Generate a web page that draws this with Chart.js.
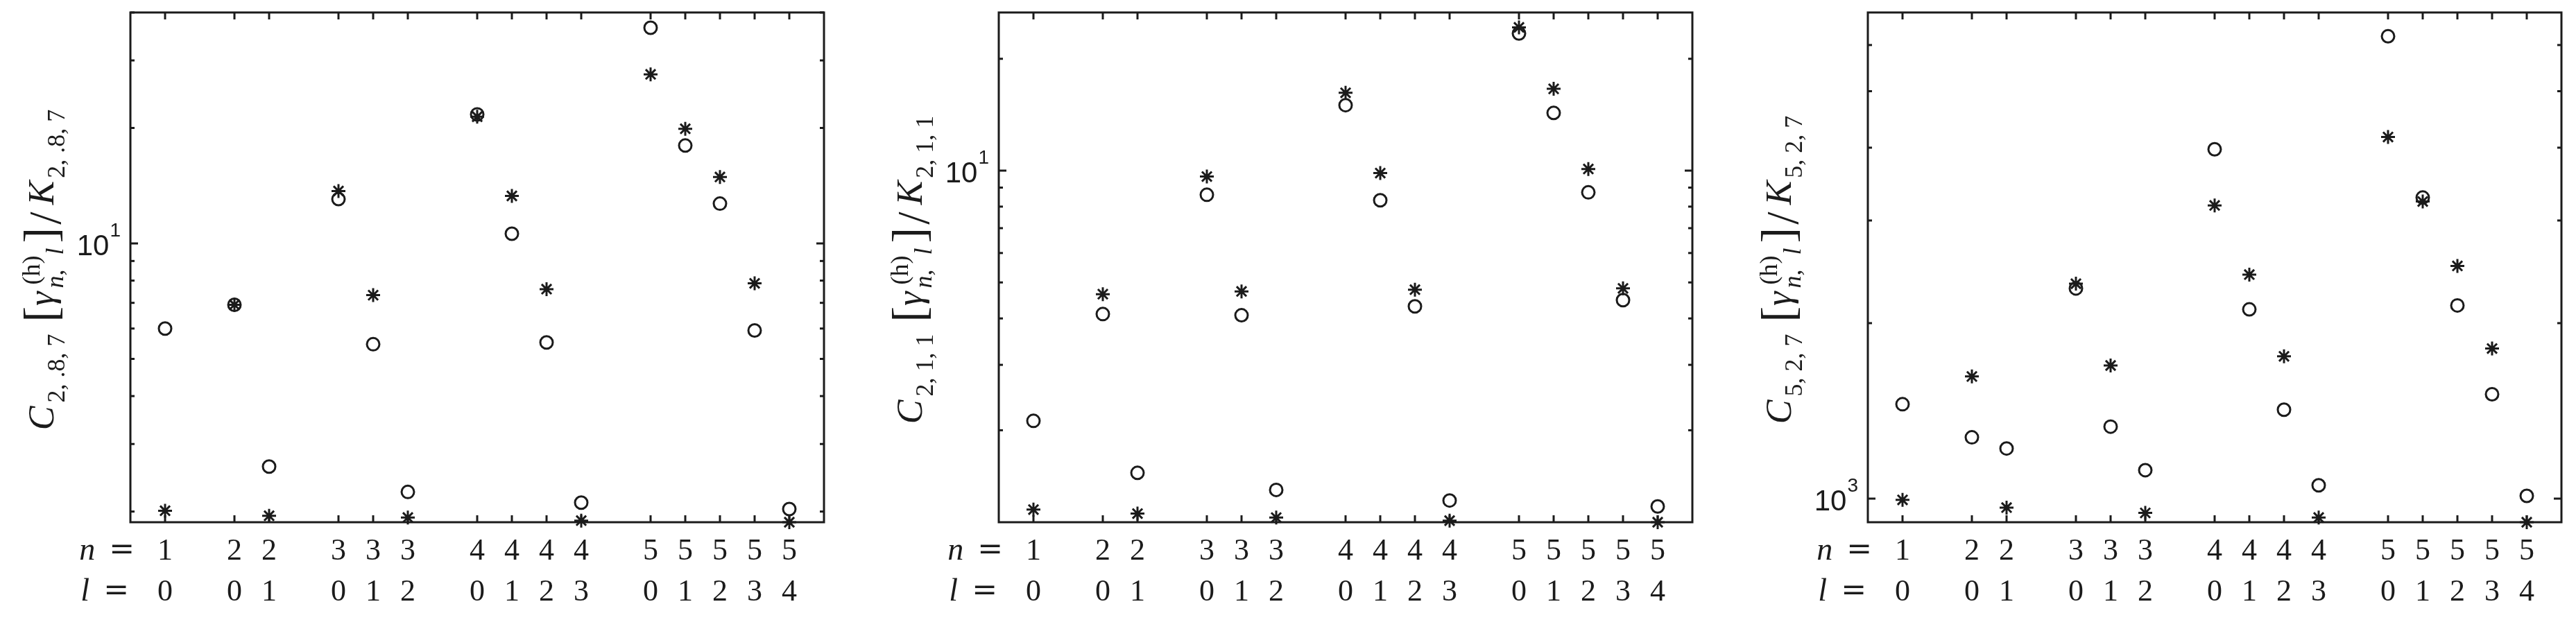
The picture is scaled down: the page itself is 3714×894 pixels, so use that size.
<!DOCTYPE html>
<html>
<head>
<meta charset="utf-8">
<script src="https://cdn.jsdelivr.net/npm/chart.js@4.4.0/dist/chart.umd.min.js"></script>
<style>
html,body{margin:0;padding:0;background:#fff;width:3714px;height:894px;overflow:hidden}
canvas{position:absolute;top:0}
</style>
</head>
<body>
<canvas id="c1" width="1238" height="894" style="left:0px"></canvas>
<canvas id="c2" width="1238" height="894" style="left:1238px"></canvas>
<canvas id="c3" width="1238" height="894" style="left:2476px"></canvas>
<script>
// ---------- data ----------
const nVals = [1, 2, 2, 3, 3, 3, 4, 4, 4, 4, 5, 5, 5, 5, 5];
const lVals = [0, 0, 1, 0, 1, 2, 0, 1, 2, 3, 0, 1, 2, 3, 4];

// panel 1 : C_{2,.8,7}
const circles1 = [6.0, 6.92, 2.62, 13.05, 5.46, 2.25, 21.7, 10.6, 5.52, 2.11, 36.5, 18.0, 12.7, 5.93, 2.03];
const stars1   = [2.01, 6.92, 1.95, 13.7, 7.33, 1.93, 21.4, 13.3, 7.6, 1.894, 27.6, 19.9, 14.9, 7.87, 1.876];
// panel 2 : C_{2,1,1}
const circles2 = [2.12, 4.11, 1.536, 8.61, 4.08, 1.382, 15.0, 8.32, 4.31, 1.294, 23.4, 14.3, 8.74, 4.48, 1.247];
const stars2   = [1.223, 4.65, 1.193, 9.64, 4.73, 1.164, 16.2, 9.85, 4.78, 1.142, 24.3, 16.6, 10.1, 4.82, 1.131];
// panel 3 : C_{5,2,7}
const circles3 = [1452, 1274, 1219, 2294, 1329, 1119, 3975, 2112, 1421, 1054, 6211, 3285, 2145, 1510, 1011];
const stars3   = [995, 1620, 965, 2337, 1692, 945, 3184, 2423, 1754, 928, 4172, 3234, 2507, 1809, 911];

// axis ranges
const yMin = [1.876, 1.131, 911];
const yMax = [40, 26.65, 6823];
const xMin = 0, xMax = 20;

// labels
const subscripts = ["2, .8, 7", "2, 1, 1", "5, 2, 7"];
const yLabelTickValue = [10, 10, 1000];
const yLabelTickBase = ["10", "10", "10"];
const yLabelTickExp = ["1", "1", "3"];
const rowNames = ["n", "l"];

// ---------- style ----------
const INK = '#1b1b1b';
const SERIF = '"Liberation Serif", "Times New Roman", serif';
const SANS = '"Liberation Sans", Arial, sans-serif';

const positions = nVals.map((n, i) => n * (n + 1) / 2 + lVals[i]);

function makePlugin(idx) {
  return {
    id: 'decor' + idx,
    afterDatasetsDraw(chart) {
      const ctx = chart.ctx, ca = chart.chartArea;
      const xs = chart.scales.x, ys = chart.scales.y;
      ctx.save();
      ctx.strokeStyle = INK;
      ctx.fillStyle = INK;
      ctx.lineWidth = 3;
      ctx.lineCap = 'butt';
      const line = (x1, y1, x2, y2) => { ctx.beginPath(); ctx.moveTo(x1, y1); ctx.lineTo(x2, y2); ctx.stroke(); };
      // x ticks (inside, bottom and top)
      positions.forEach(p => {
        const px = xs.getPixelForValue(p);
        line(px, ca.bottom, px, ca.bottom - 10);
        line(px, ca.top, px, ca.top + 10);
      });
      // y ticks (log, major + minor)
      const lo = Math.floor(Math.log10(ys.min)), hi = Math.ceil(Math.log10(ys.max));
      for (let d = lo; d <= hi; d++) {
        for (let m = 1; m <= 9; m++) {
          const v = m * Math.pow(10, d);
          if (v < ys.min * 0.9999 || v > ys.max * 1.0001) continue;
          const py = ys.getPixelForValue(v);
          const len = m === 1 ? 11 : 6;
          line(ca.left, py, ca.left + len, py);
          line(ca.right, py, ca.right - len, py);
        }
      }
      // frame
      ctx.strokeRect(ca.left, ca.top, ca.right - ca.left, ca.bottom - ca.top);

      // x tick labels (two rows)
      const rowBase = [ca.bottom + 54, ca.bottom + 113];
      ctx.textAlign = 'center';
      ctx.textBaseline = 'alphabetic';
      ctx.font = '44px ' + SERIF;
      positions.forEach((p, i) => {
        const px = xs.getPixelForValue(p);
        ctx.fillText(String(nVals[i]), px, rowBase[0]);
        ctx.fillText(String(lVals[i]), px, rowBase[1]);
      });
      // row names "n =" / "l ="
      const eqRight = [ca.left + 6, ca.left - 2];
      ctx.textAlign = 'right';
      for (let r = 0; r < 2; r++) {
        ctx.font = '44px "DejaVu Serif", ' + SERIF;
        ctx.fillText('=', eqRight[r], rowBase[r] - 1);
        const eqW = ctx.measureText('=').width;
        ctx.font = 'italic 46px ' + SERIF;
        ctx.fillText(rowNames[r], eqRight[r] - eqW - 20, rowBase[r]);
      }

      // y major tick label  10^k
      const ty = ys.getPixelForValue(yLabelTickValue[idx]);
      ctx.textAlign = 'left';
      ctx.font = '28px ' + SANS;
      const wExp = ctx.measureText(yLabelTickExp[idx]).width;
      ctx.font = '42px ' + SANS;
      const wBase = ctx.measureText(yLabelTickBase[idx]).width;
      const x0 = ca.left - 15 - wExp - wBase;
      ctx.fillText(yLabelTickBase[idx], x0, ty + 17);
      ctx.font = '28px ' + SANS;
      ctx.fillText(yLabelTickExp[idx], x0 + wBase + 1, ty - 10);

      // y axis title: C_{sub} [ gamma^{(h)}_{n,l} ] / K_{sub}
      drawYTitle(ctx, ca.left - 111, 389, subscripts[idx]);
      ctx.restore();
    }
  };
}

function drawYTitle(ctx, baseX, cy, sub) {
  const MAIN = 'italic 52px ' + SERIF;
  const SUBF = '36px ' + SERIF;
  const SUBI = 'italic 36px ' + SERIF;
  const BR = '68px ' + SERIF;
  const SL = '66px ' + SERIF;
  // each piece: text, font, dy (positive = below main baseline), gap before
  const pieces = [
    { t: 'C', f: MAIN, dy: 0, gap: 0 },
    { t: sub, f: SUBF, dy: 16, gap: 5 },
    { t: '[', f: BR, dy: 4, gap: 17 },
    { t: 'γ', f: MAIN, dy: 0, gap: 1 },
    { stack: [
        { t: '(h)', f: SUBF, dy: -20, dx: 8 },
        { t: 'n,', f: SUBI, dy: 14, dx: 3 },
        { t: 'l', f: SUBI, dy: 14, dx: 51 }
      ], w: 70, gap: 2 },
    { t: ']', f: BR, dy: 4, gap: -2 },
    { t: '/', f: SL, dy: 10, gap: 4 },
    { t: 'K', f: MAIN, dy: 0, gap: 10 },
    { t: sub, f: SUBF, dy: 16, gap: 4 }
  ];
  ctx.save();
  ctx.translate(baseX, cy);
  ctx.rotate(-Math.PI / 2);
  ctx.textAlign = 'left';
  ctx.textBaseline = 'alphabetic';
  let total = 0;
  pieces.forEach(p => {
    if (!p.stack) { ctx.font = p.f; p.w = ctx.measureText(p.t).width; }
    total += p.gap + p.w;
  });
  let x = -total / 2;
  pieces.forEach(p => {
    x += p.gap;
    if (p.stack) {
      p.stack.forEach(s => { ctx.font = s.f; ctx.fillText(s.t, x + s.dx, s.dy); });
    } else { ctx.font = p.f; ctx.fillText(p.t, x, p.dy); }
    x += p.w;
  });
  ctx.restore();
}

const panels = [
  { id: 'c1', circles: circles1, stars: stars1, padL: 188, padR: 50 },
  { id: 'c2', circles: circles2, stars: stars2, padL: 202, padR: 36 },
  { id: 'c3', circles: circles3, stars: stars3, padL: 217, padR: 21 }
];

panels.forEach((pn, idx) => {
  const circleData = pn.circles.map((v, i) => ({ x: positions[i], y: v }));
  const starData = pn.stars.map((v, i) => ({ x: positions[i], y: v }));
  new Chart(document.getElementById(pn.id), {
    type: 'scatter',
    data: {
      datasets: [
        { data: circleData, pointStyle: 'circle', pointRadius: 9, pointBorderWidth: 3,
          borderColor: INK, backgroundColor: 'rgba(0,0,0,0)', pointBackgroundColor: 'rgba(0,0,0,0)',
          pointBorderColor: INK, clip: false, showLine: false },
        { data: starData, pointStyle: 'star', pointRadius: 10, pointBorderWidth: 3,
          borderColor: INK, pointBorderColor: INK, backgroundColor: INK, clip: false, showLine: false }
      ]
    },
    options: {
      responsive: false,
      animation: false,
      events: [],
      devicePixelRatio: 1,
      layout: { padding: { left: pn.padL, right: pn.padR, top: 18, bottom: 141 } },
      plugins: { legend: { display: false }, tooltip: { enabled: false } },
      scales: {
        x: { type: 'linear', min: xMin, max: xMax, display: false },
        y: { type: 'logarithmic', min: yMin[idx], max: yMax[idx], display: false }
      }
    },
    plugins: [makePlugin(idx)]
  });
});
</script>
</body>
</html>
